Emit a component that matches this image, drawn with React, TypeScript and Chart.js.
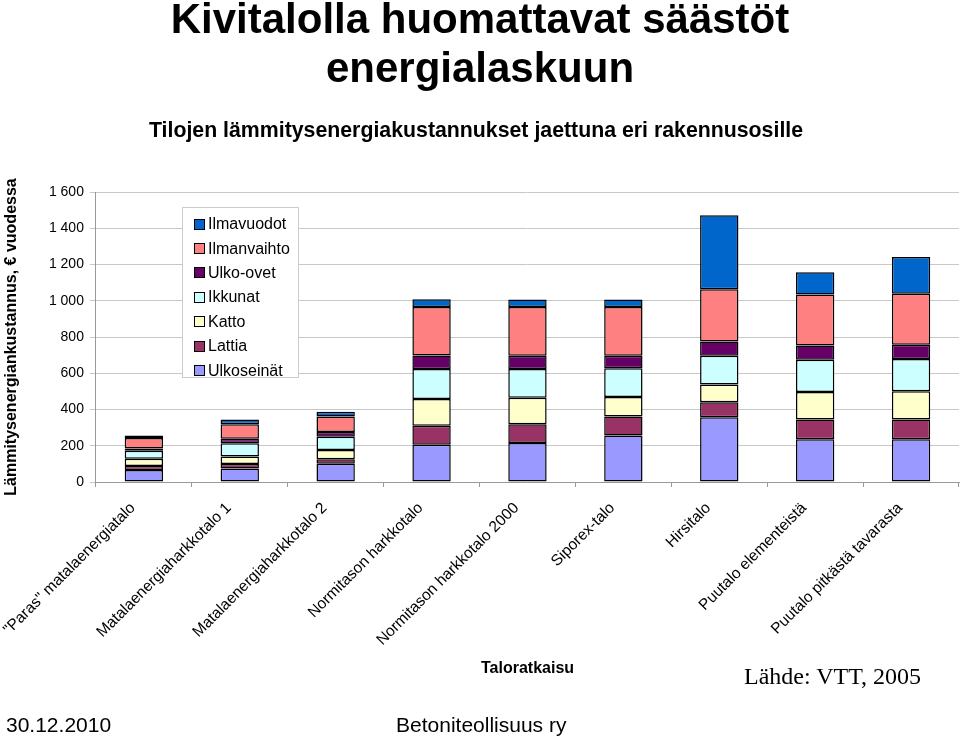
import React, { useEffect, useRef } from "react";
import { Chart, registerables } from "chart.js";

Chart.register(...registerables);

const categories = [
  '"Paras" matalaenergiatalo',
  "Matalaenergiaharkkotalo 1",
  "Matalaenergiaharkkotalo 2",
  "Normitason harkkotalo",
  "Normitason harkkotalo 2000",
  "Siporex-talo",
  "Hirsitalo",
  "Puutalo elementeistä",
  "Puutalo pitkästä tavarasta",
];

const ulkoseinat = [66, 74, 101, 206, 215, 256, 357, 236, 236];
const lattia = [22, 25, 24, 105, 103, 105, 83, 109, 109];
const katto = [40, 42, 51, 147, 147, 108, 98, 152, 156];
const ikkunat = [44, 73, 74, 166, 158, 158, 158, 177, 177];
const ulkoovet = [13, 24, 26, 74, 74, 70, 79, 79, 79];
const ilmanvaihto = [58, 81, 85, 268, 268, 268, 289, 281, 281];
const ilmavuodot = [13, 26, 26, 42, 42, 42, 408, 123, 204];

const seriesNames = ["Ulkoseinät", "Lattia", "Katto", "Ikkunat", "Ulko-ovet", "Ilmanvaihto", "Ilmavuodot"];
const seriesValues = [ulkoseinat, lattia, katto, ikkunat, ulkoovet, ilmanvaihto, ilmavuodot];
const seriesColors = ["#9999FF", "#993366", "#FFFFCC", "#CCFFFF", "#660066", "#FF8080", "#0066CC"];

const yTicks = [0, 200, 400, 600, 800, 1000, 1200, 1400, 1600];

const SANS = '"Liberation Sans", Arial, sans-serif';

function fmt(v: number) {
  return String(v).replace(/\B(?=(\d{3})+(?!\d))/g, " ");
}

export default function App() {
  const ref = useRef<HTMLCanvasElement | null>(null);

  useEffect(() => {
    const canvas = ref.current;
    if (!canvas) return;
    const chart = new Chart(canvas, {
      type: "bar",
      data: {
        labels: categories,
        datasets: seriesNames.map((name, i) => ({
          label: name,
          data: seriesValues[i],
          backgroundColor: seriesColors[i],
          borderColor: "#000000",
          borderWidth: 1.5,
          borderSkipped: false,
          barPercentage: 0.4,
          categoryPercentage: 1,
        })),
      },
      options: {
        responsive: false,
        animation: false,
        layout: { padding: { top: 192, right: 1, left: 0, bottom: 0 } },
        plugins: {
          legend: { display: false },
          tooltip: { enabled: false },
          title: { display: false },
        },
        scales: {
          x: {
            stacked: true,
            afterFit: (scale: any) => {
              scale.height = 257;
            },
            grid: {
              drawOnChartArea: false,
              drawTicks: true,
              tickLength: 5,
              color: "#999999",
              offset: true,
            },
            border: { color: "#999999", width: 1 },
            ticks: {
              autoSkip: false,
              maxRotation: 45,
              minRotation: 45,
              padding: 12,
              labelOffset: -11,
              color: "#000000",
              font: { family: SANS, size: 15.5 },
            },
          },
          y: {
            stacked: true,
            min: 0,
            max: 1600,
            afterFit: (scale: any) => {
              scale.width = 95;
            },
            afterBuildTicks: (scale: any) => {
              scale.ticks = yTicks.map((v) => ({ value: v }));
            },
            grid: {
              color: "#c8c8c8",
              lineWidth: 1,
              tickLength: 6,
              drawTicks: true,
            },
            border: { color: "#999999", width: 1 },
            ticks: {
              padding: 6,
              color: "#000000",
              font: { family: SANS, size: 14 },
              callback: (v: any) => fmt(Number(v)),
            },
            title: {
              display: true,
              text: "Lämmitysenergiankustannus, € vuodessa",
              color: "#000000",
              font: { family: SANS, size: 16, weight: "bold" },
              padding: { top: 1, bottom: 0 },
            },
          },
        },
      },
    } as any);
    return () => chart.destroy();
  }, []);

  const legendItems = seriesNames
    .map((n, i) => ({ n, c: seriesColors[i] }))
    .reverse();

  return (
    <div
      style={{
        position: "fixed",
        left: 0,
        top: 0,
        width: 960,
        height: 739,
        background: "#ffffff",
        overflow: "hidden",
        fontFamily: SANS,
      }}
    >
      <canvas ref={ref} width={960} height={739} style={{ position: "absolute", left: 0, top: 0, width: 960, height: 739 }} />
      <div
        style={{
          position: "absolute",
          left: 0,
          top: -6,
          width: 960,
          textAlign: "center",
          fontWeight: "bold",
          fontSize: 42,
          lineHeight: "49px",
          color: "#000",
        }}
      >
        Kivitalolla huomattavat säästöt
        <br />
        energialaskuun
      </div>
      <div
        style={{
          position: "absolute",
          left: 0,
          top: 117,
          width: 952,
          textAlign: "center",
          fontWeight: "bold",
          fontSize: 21.3,
          lineHeight: "26px",
          color: "#000",
        }}
      >
        Tilojen lämmitysenergiakustannukset jaettuna eri rakennusosille
      </div>
      <div
        style={{
          position: "absolute",
          left: 182,
          top: 207,
          width: 117,
          height: 171,
          border: "1px solid #cccccc",
          background: "#ffffff",
          boxSizing: "border-box",
          paddingTop: 4,
        }}
      >
        {legendItems.map((it) => (
          <div key={it.n} style={{ display: "flex", alignItems: "center", height: 24.4, paddingLeft: 11 }}>
            <span
              style={{
                display: "inline-block",
                width: 9,
                height: 9,
                background: it.c,
                border: "1px solid #000",
                marginRight: 3,
              }}
            />
            <span style={{ fontSize: 16, color: "#000", whiteSpace: "nowrap" }}>{it.n}</span>
          </div>
        ))}
      </div>
      <div
        style={{
          position: "absolute",
          left: 481,
          top: 658,
          fontSize: 16,
          fontWeight: "bold",
          color: "#000",
          lineHeight: "20px",
        }}
      >
        Taloratkaisu
      </div>
      <div
        style={{
          position: "absolute",
          left: 744,
          top: 661,
          fontFamily: '"Liberation Serif", "Times New Roman", serif',
          fontSize: 24,
          color: "#000",
          lineHeight: "30px",
        }}
      >
        Lähde: VTT, 2005
      </div>
      <div style={{ position: "absolute", left: 6, top: 712, fontSize: 21, color: "#000", lineHeight: "26px" }}>
        30.12.2010
      </div>
      <div style={{ position: "absolute", left: 396, top: 712, fontSize: 21, color: "#000", lineHeight: "26px" }}>
        Betoniteollisuus ry
      </div>
    </div>
  );
}
